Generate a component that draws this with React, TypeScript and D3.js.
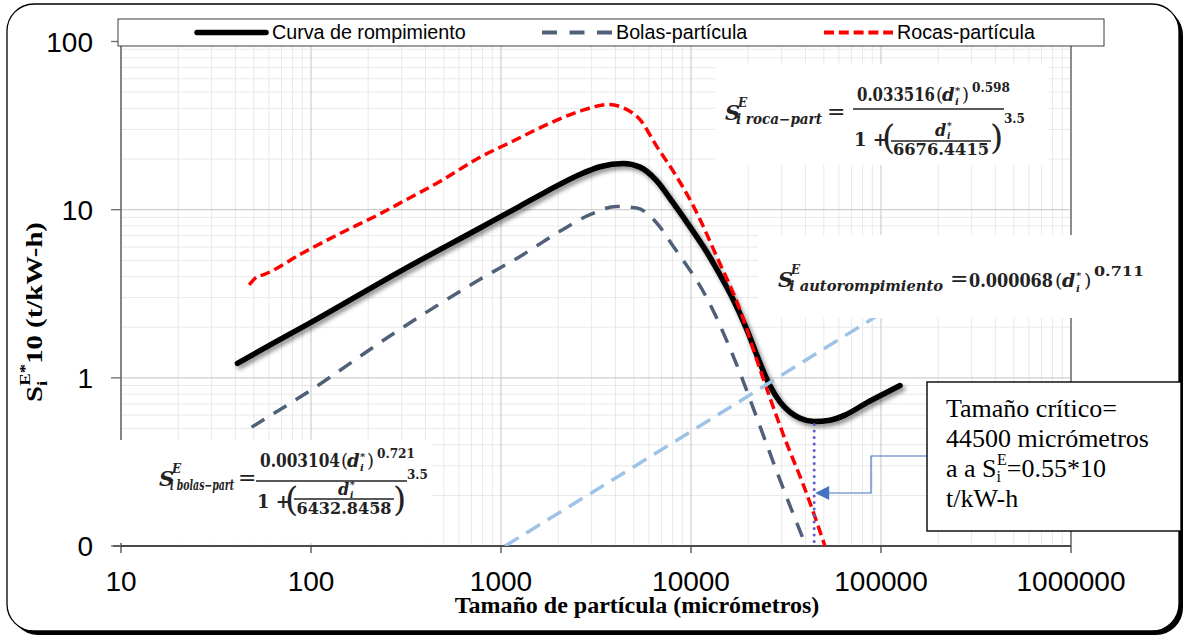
import React from 'react';
import * as d3 from 'd3';

// ---------- data ----------
const curvaSize = [41, 61, 99, 306, 775, 1260, 1740, 2600, 3320, 4400, 5390, 6550, 8040, 9880, 12100, 14200, 16700, 19500, 23100, 26000, 29400, 33200, 37500, 44500, 53900, 64600, 84000, 105000, 126000];
const curvaValue = [1.22, 1.57, 2.12, 4.4, 7.78, 10.5, 12.85, 16.2, 18.0, 18.8, 17.9, 15.0, 11.0, 7.9, 5.6, 4.1, 2.91, 1.98, 1.22, 0.9, 0.72, 0.625, 0.575, 0.55, 0.56, 0.6, 0.71, 0.81, 0.9];

const bolasSize = [48.7, 99, 271, 824, 1260, 2040, 2940, 4060, 5180, 6600, 8070, 12100, 18100, 23100, 29400, 40300];
const bolasValue = [0.509, 0.84, 1.83, 4.01, 5.27, 7.43, 9.34, 10.46, 10.23, 8.33, 6.05, 2.99, 1.07, 0.513, 0.247, 0.1];

const rocasSize = [47.3, 52, 56, 91, 154, 231, 319, 477, 775, 1160, 1740, 2600, 3670, 4400, 5390, 6600, 8070, 10300, 13650, 18100, 23100, 30600, 40600, 50700];
const rocasValue = [3.57, 3.99, 4.1, 5.55, 7.55, 9.45, 11.5, 14.7, 20.5, 25.6, 32.0, 38.5, 42.2, 40.3, 34.3, 23.8, 16.9, 10.5, 5.27, 2.54, 1.12, 0.46, 0.205, 0.1];

const autoSize = [1050, 10000, 96000];
const autoValue = [0.1, 0.48, 2.35];

const xTickValues = [10, 100, 1000, 10000, 100000, 1000000];
const xTickLabels = ['10', '100', '1000', '10000', '100000', '1000000'];
const yTickValues = [0.1, 1, 10, 100];
const yTickLabels = ['0', '1', '10', '100'];
const legendLabels = ['Curva de rompimiento', 'Bolas-partícula', 'Rocas-partícula'];
const criticalSize = 44500;
const criticalValue = 0.55;

const SANS = "'Liberation Sans', Arial, sans-serif";
const SERIF = "'Liberation Serif', 'Times New Roman', serif";
const MATH = "'DejaVu Serif', serif";
const MCOL = '#222';

function FracFormula(p: any) {
  const { x0, B, sub, subW, xEq, xN, coef, coefW, expo, cst, cstW, numY, barY, parenY, oneY, inNumY, inBarY, inDenY, expY } = p;
  const cx = xN + 84;
  const c = xN + coefW;
  return (
    <g fill={MCOL} fontFamily={MATH} fontWeight="bold">
      <text x={x0} y={B} fontSize={21} fontStyle="italic">S</text>
      <text x={x0 + 13} y={B - 13} fontSize={12} fontStyle="italic">E</text>
      <text x={x0 + 11} y={B + 4} fontSize={14} fontStyle="italic" textLength={subW} lengthAdjust="spacingAndGlyphs">{sub}</text>
      <text x={xEq} y={B - 1} fontSize={22} fontWeight="normal">=</text>
      <text x={xN} y={numY} fontSize={18} textLength={coefW} lengthAdjust="spacingAndGlyphs">{coef}</text>
      <text x={c + 1} y={numY} fontSize={18} fontWeight="normal">(</text>
      <text x={c + 7} y={numY} fontSize={18} fontStyle="italic">d</text>
      <text x={c + 20} y={numY - 7} fontSize={10}>*</text>
      <text x={c + 20} y={numY + 4} fontSize={10} fontStyle="italic">i</text>
      <text x={c + 27} y={numY} fontSize={18} fontWeight="normal">)</text>
      <text x={c + 37} y={numY - 9} fontSize={12} textLength={38} lengthAdjust="spacingAndGlyphs">{expo}</text>
      <line x1={xN - 4} x2={xN + 147} y1={barY} y2={barY} stroke={MCOL} strokeWidth={1.6} />
      <text x={xN - 3} y={oneY} fontSize={18}>1 +</text>
      <text x={xN + 25} y={parenY} fontSize={34} fontWeight="normal">(</text>
      <text x={cx - 6} y={inNumY} fontSize={16} fontStyle="italic">d</text>
      <text x={cx + 6} y={inNumY - 7} fontSize={9}>*</text>
      <text x={cx + 6} y={inNumY + 3} fontSize={9} fontStyle="italic">i</text>
      <line x1={xN + 34} x2={xN + 134} y1={inBarY} y2={inBarY} stroke={MCOL} strokeWidth={1.3} />
      <text x={cx} y={inDenY} fontSize={16} textAnchor="middle" textLength={cstW} lengthAdjust="spacingAndGlyphs">{cst}</text>
      <text x={xN + 133} y={parenY} fontSize={34} fontWeight="normal">)</text>
      <text x={xN + 147} y={expY} fontSize={12}>3.5</text>
    </g>
  );
}

export default function App() {
  const x = d3.scaleLog().domain([10, 1e6]).range([121, 1071]);
  const y = d3.scaleLog().domain([0.1, 100]).range([546, 41.5]);
  const mk = (ds: number[], vs: number[]) =>
    d3.line<[number, number]>().x(d => x(d[0])).y(d => y(d[1])).curve(d3.curveMonotoneX)(ds.map((d, i) => [d, vs[i]] as [number, number])) || '';

  const xMinor: number[] = [];
  const xMajor: number[] = [];
  for (let k = 1; k <= 5; k++) {
    for (let m = 1; m <= 9; m++) {
      const v = m * Math.pow(10, k);
      (m === 1 ? xMajor : xMinor).push(v);
    }
  }
  const yMinor: number[] = [];
  const yMajor: number[] = [];
  for (let k = -1; k <= 1; k++) {
    for (let m = 1; m <= 9; m++) {
      const v = m * Math.pow(10, k);
      (m === 1 ? yMajor : yMinor).push(v);
    }
  }

  const cxCrit = x(criticalSize);
  const cyCrit = y(criticalValue);

  return (
    <svg width={1187} height={640} style={{ position: 'absolute', left: 0, top: 0 }} xmlns="http://www.w3.org/2000/svg">
      <defs>
        <clipPath id="plotclip">
          <rect x={121} y={41} width={950} height={505} />
        </clipPath>
        <filter id="shadow" x="-5%" y="-10%" width="115%" height="130%">
          <feDropShadow dx={2.5} dy={3} stdDeviation={2} floodColor="#000" floodOpacity={0.45} />
        </filter>
      </defs>
      <rect x={0} y={0} width={1187} height={640} fill="#fff" />
      {/* outer frame with shadow */}
      <rect x={11} y={8} width={1172} height={627} rx={27} fill="#000" />
      <rect x={7} y={4} width={1172} height={627} rx={27} fill="#fff" stroke="#000" strokeWidth={1.3} />

      {/* gridlines */}
      <g>
        {xMinor.map(v => <line key={'xm' + v} x1={x(v)} x2={x(v)} y1={41} y2={546} stroke="#e8e8e8" strokeWidth={1} />)}
        {yMinor.map(v => <line key={'ym' + v} x1={121} x2={1071} y1={y(v)} y2={y(v)} stroke="#e8e8e8" strokeWidth={1} />)}
        {xMajor.map(v => <line key={'xM' + v} x1={x(v)} x2={x(v)} y1={41} y2={546} stroke="#cfcfcf" strokeWidth={1.2} />)}
        {yMajor.map(v => <line key={'yM' + v} x1={121} x2={1071} y1={y(v)} y2={y(v)} stroke="#cfcfcf" strokeWidth={1.2} />)}
      </g>
      {/* plot borders */}
      <line x1={1071} x2={1071} y1={41} y2={546} stroke="#8c8c8c" strokeWidth={2} />
      <line x1={121} x2={121} y1={41} y2={546} stroke="#6e6e6e" strokeWidth={1.6} />
      <line x1={113} x2={1071} y1={546} y2={546} stroke="#4a4a4a" strokeWidth={2} />
      {yTickValues.map(v => <line key={'yt' + v} x1={111} x2={121} y1={y(v)} y2={y(v)} stroke="#6e6e6e" strokeWidth={1.3} />)}
      {xTickValues.map(v => <line key={'xt' + v} x1={x(v)} x2={x(v)} y1={546} y2={553} stroke="#4a4a4a" strokeWidth={1.3} />)}

      {/* series */}
      <g clipPath="url(#plotclip)" fill="none">
        <path d={mk(curvaSize, curvaValue)} stroke="#000" strokeWidth={5.5} strokeLinecap="round" strokeLinejoin="round" filter="url(#shadow)" />
        <path d={mk(bolasSize, bolasValue)} stroke="#506079" strokeWidth={3.5} strokeDasharray="15,11" />
        <path d={mk(rocasSize, rocasValue)} stroke="#ff0000" strokeWidth={3.5} strokeDasharray="10,5" />
        <path d={mk(autoSize, autoValue)} stroke="#9dc3e6" strokeWidth={3.5} strokeDasharray="16,9" />
        <line x1={cxCrit} x2={cxCrit} y1={cyCrit + 3} y2={546} stroke="#5b5fc7" strokeWidth={3} strokeDasharray="0,6.5" strokeLinecap="round" />
      </g>

      {/* formula boxes */}
      <rect x={715} y={64} width={333} height={101} fill="#fff" />
      <FracFormula x0={725} B={120} sub="i roca−part" subW={86} xEq={827} xN={857} coef="0.033516" coefW={78} expo="0.598" cst="6676.4415" cstW={96}
        numY={101} barY={109} parenY={149} oneY={146} inNumY={136} inBarY={141} inDenY={155} expY={123} />

      <rect x={758} y={235} width={405} height={83} fill="#fff" />
      <g fill={MCOL} fontFamily={MATH} fontWeight="bold">
        <text x={778} y={287} fontSize={21} fontStyle="italic">S</text>
        <text x={791} y={274} fontSize={12} fontStyle="italic">E</text>
        <text x={789} y={291} fontSize={14} fontStyle="italic" textLength={154} lengthAdjust="spacingAndGlyphs">i autorompimiento</text>
        <text x={950} y={286} fontSize={22} fontWeight="normal">=</text>
        <text x={969} y={287} fontSize={19} textLength={84} lengthAdjust="spacingAndGlyphs">0.000068</text>
        <text x={1055} y={287} fontSize={19} fontWeight="normal">(</text>
        <text x={1062} y={287} fontSize={19} fontStyle="italic">d</text>
        <text x={1076} y={279} fontSize={10}>*</text>
        <text x={1076} y={292} fontSize={10} fontStyle="italic">i</text>
        <text x={1084} y={287} fontSize={19} fontWeight="normal">)</text>
        <text x={1094} y={276} fontSize={13} textLength={50} lengthAdjust="spacingAndGlyphs">0.711</text>
      </g>

      <rect x={108} y={440} width={324} height={103} fill="#fff" />
      <FracFormula x0={159} B={486} sub="i bolas−part" subW={64} xEq={238} xN={260} coef="0.003104" coefW={80} expo="0.721" cst="6432.8458" cstW={95}
        numY={467} barY={481} parenY={511} oneY={508} inNumY={495} inBarY={499} inDenY={514} expY={479} />

      {/* legend */}
      <rect x={118} y={19} width={986} height={27} fill="#fff" stroke="#3c3c3c" strokeWidth={1} />
      <line x1={197} x2={266} y1={32.5} y2={32.5} stroke="#000" strokeWidth={5.5} strokeLinecap="round" />
      <text x={272} y={38.5} fontFamily={SANS} fontSize={19.7} fill="#000">{legendLabels[0]}</text>
      <line x1={542} x2={612} y1={32.5} y2={32.5} stroke="#506079" strokeWidth={4} strokeDasharray="15,12.5" />
      <text x={616} y={38.5} fontFamily={SANS} fontSize={19.7} fill="#000">{legendLabels[1]}</text>
      <line x1={824} x2={893} y1={32.5} y2={32.5} stroke="#ff0000" strokeWidth={4} strokeDasharray="10,4.8" />
      <text x={897} y={38.5} fontFamily={SANS} fontSize={19.7} fill="#000">{legendLabels[2]}</text>

      {/* tick labels */}
      {yTickValues.map((v, i) => (
        <text key={'yl' + v} x={93} y={y(v) + 10} textAnchor="end" fontFamily={SANS} fontSize={28} fill="#000">{yTickLabels[i]}</text>
      ))}
      {xTickValues.map((v, i) => (
        <text key={'xl' + v} x={x(v)} y={591} textAnchor="middle" fontFamily={SANS} fontSize={28} fill="#000">{xTickLabels[i]}</text>
      ))}

      {/* axis titles */}
      <text x={637} y={613} textAnchor="middle" fontFamily={SERIF} fontWeight="bold" fontSize={24} fill="#000">Tamaño de partícula (micrómetros)</text>
      <text transform="translate(42,312) rotate(-90) scale(1.25,1)" textAnchor="middle" fontFamily={SERIF} fontWeight="bold" fontSize={23} fill="#000">
        S<tspan fontSize={15} dy={5}>i</tspan><tspan fontSize={15} dx={-4} dy={-17}>E*</tspan><tspan fontSize={23} dy={12}>10 (t/kW-h)</tspan>
      </text>

      {/* critical size annotation */}
      <path d={`M927,456 H871 V493 H${cxCrit + 14}`} fill="none" stroke="#4472c4" strokeWidth={1.2} />
      <path d={`M${cxCrit + 1},493 L${cxCrit + 15},486 L${cxCrit + 15},500 Z`} fill="#4472c4" />
      <rect x={927} y={382} width={254} height={149} fill="#fff" stroke="#000" strokeWidth={1.4} />
      <g fontFamily={SERIF} fontSize={26} fill="#000">
        <text x={946} y={417}>Tamaño crítico=</text>
        <text x={946} y={447}>44500 micrómetros</text>
        <text x={946} y={477}>a a S<tspan fontSize={16} dy={5}>i</tspan><tspan fontSize={16} dx={-4} dy={-17}>E</tspan><tspan fontSize={26} dy={12}>=0.55*10</tspan></text>
        <text x={946} y={507}>t/kW-h</text>
      </g>
    </svg>
  );
}
